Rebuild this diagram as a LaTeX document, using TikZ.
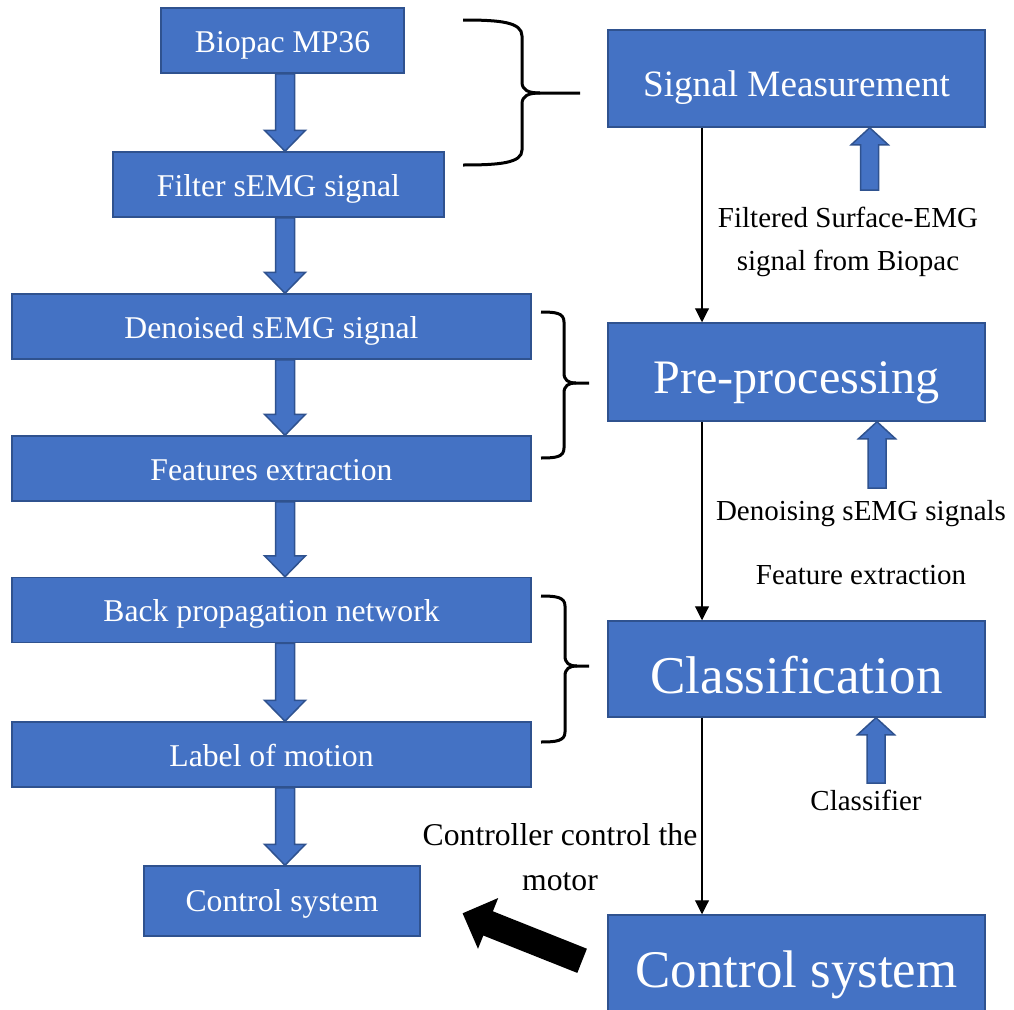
\documentclass[tikz,border=0pt]{standalone}
\usepackage{fontspec}
\setmainfont{Liberation Serif}
\usetikzlibrary{arrows.meta,calc}
\definecolor{boxfill}{HTML}{4472C4}
\definecolor{boxline}{HTML}{2F528F}
\tikzset{
  box/.style={rectangle, draw=boxline, fill=boxfill, line width=1.5pt, inner sep=0pt, text=white},
  lbox/.style={box, font=\fontsize{31.7}{38}\selectfont, text height=23pt, text depth=0pt, minimum height=65pt},
  rbox/.style={box, minimum width=377pt},
  lab/.style={font=\fontsize{29}{34}\selectfont, anchor=base, inner sep=0pt},
  blab/.style={font=\fontsize{31.7}{38}\selectfont, anchor=base, inner sep=0pt},
  blockarrow/.style={fill=boxfill, draw=boxline, line width=1.5pt, line join=miter},
  thinarrow/.style={draw=black, line width=1.1pt, -{Triangle[length=14pt,width=14pt]}},
  bracestyle/.style={draw=black, line width=3pt},
}
\newcommand{\blockdown}[2]{%
  \draw[blockarrow] let \p1=(#1.south -| dax), \p2=(#2.north -| dax) in
  (\x1-9.5pt,\y1) -- (\x1+9.5pt,\y1) -- (\x1+9.5pt,\y2+21pt) -- (\x1+20.5pt,\y2+21pt)
  -- (\x1,\y2) -- (\x1-20.5pt,\y2+21pt) -- (\x1-9.5pt,\y2+21pt) -- cycle;}
\newcommand{\blockup}[2]{%
  \draw[blockarrow] let \p1=(#1), \p2=(#2.south -| #1) in
  (\x1-9pt,\y1) -- (\x1+9pt,\y1) -- (\x1+9pt,\y2-17pt) -- (\x1+18.5pt,\y2-17pt)
  -- (\x1,\y2) -- (\x1-18.5pt,\y2-17pt) -- (\x1-9pt,\y2-17pt) -- cycle;}
\begin{document}
\begin{tikzpicture}[x=1pt,y=-1pt]
\useasboundingbox (0,0) rectangle (1014,1009);
\clip (0,0) rectangle (1014,1009);
\fill[white] (0,0) rectangle (1014,1009);

\coordinate (dax) at (285,0);
\coordinate (ax) at (702,0);
\coordinate (u1) at (869.7,190);
\coordinate (u2) at (877,488);
\coordinate (u3) at (876,783);

% left column
\node[lbox, minimum width=243pt] (b1) at (282.5,40.5) {Biopac MP36};
\node[lbox, minimum width=331pt] (b2) at (278.5,184.5) {Filter sEMG signal};
\node[lbox, minimum width=519pt] (b3) at (271.5,326.5) {Denoised sEMG signal};
\node[lbox, minimum width=519pt] (b4) at (271.5,468.5) {Features extraction};
\node[lbox, minimum width=519pt] (b5) at (271.5,610) {Back propagation network};
\node[lbox, minimum width=519pt] (b6) at (271.5,754.5) {Label of motion};
\node[lbox, minimum width=276pt, minimum height=70pt, text height=21pt] (b7) at (282,901) {Control system};

\blockdown{b1}{b2}
\blockdown{b2}{b3}
\blockdown{b3}{b4}
\blockdown{b4}{b5}
\blockdown{b5}{b6}
\blockdown{b6}{b7}

% right column
\node[rbox, minimum height=97pt, font=\fontsize{37.2}{44}\selectfont, text height=35pt, text depth=0pt] (r1) at (796.5,78.5) {Signal Measurement};
\node[rbox, minimum height=98pt, font=\fontsize{48.1}{58}\selectfont, text height=42pt, text depth=0pt] (r2) at (796.5,372) {Pre-processing};
\node[rbox, minimum height=96pt, font=\fontsize{53.1}{64}\selectfont, text height=48pt, text depth=0pt] (r3) at (796.5,669) {Classification};
\node[rbox, minimum height=97pt, font=\fontsize{52.9}{64}\selectfont, text height=47pt, text depth=0pt] (r4) at (796.5,963.5) {Control system};

\draw[thinarrow] (r1.south -| ax) -- (r2.north -| ax);
\draw[thinarrow] (r2.south -| ax) -- (r3.north -| ax);
\draw[thinarrow] (r3.south -| ax) -- (r4.north -| ax);

\blockup{u1}{r1}
\blockup{u2}{r2}
\blockup{u3}{r3}

% labels
\node[lab] (l1) at (848,227) {Filtered Surface-EMG};
\node[lab] (l2) at (848,270) {signal from Biopac};
\node[lab] (l3) at (861,520) {Denoising sEMG signals};
\node[lab] (l4) at (861,584) {Feature extraction};
\node[lab] (l5) at (866,810) {Classifier};
\node[blab] (l6) at (560,845) {Controller control the};
\node[blab] (l7) at (560,890) {motor};

% braces
\draw[bracestyle] (463,20) .. controls (500,20) and (522,22) .. (522,36) -- (522,82)
  .. controls (522,90) and (528,93) .. (540,93) -- (580,93);
\draw[bracestyle] (463,165) .. controls (500,165) and (522,163) .. (522,150) -- (522,104)
  .. controls (522,96) and (528,93) .. (540,93);

\draw[bracestyle] (541,312) .. controls (556,312) and (564,313) .. (564,322) -- (564,373)
  .. controls (564,380) and (568,383) .. (576,383) -- (589,383);
\draw[bracestyle] (541,458) .. controls (556,458) and (564,457) .. (564,448) -- (564,393)
  .. controls (564,386) and (568,383) .. (576,383);

\draw[bracestyle] (541,596) .. controls (556,596) and (565,597) .. (565,606) -- (565,656)
  .. controls (565,663) and (569,666) .. (577,666) -- (589,666);
\draw[bracestyle] (541,742) .. controls (556,742) and (565,741) .. (565,732) -- (565,676)
  .. controls (565,669) and (569,666) .. (577,666);

% black arrow from right control system toward left control system
\fill[black] (462.6,913.3) -- (498.2,898.0) -- (492.9,911.3) -- (586.9,948.7)
  -- (577.3,972.9) -- (483.3,935.5) -- (478.0,948.8) -- cycle;
\end{tikzpicture}
\end{document}
